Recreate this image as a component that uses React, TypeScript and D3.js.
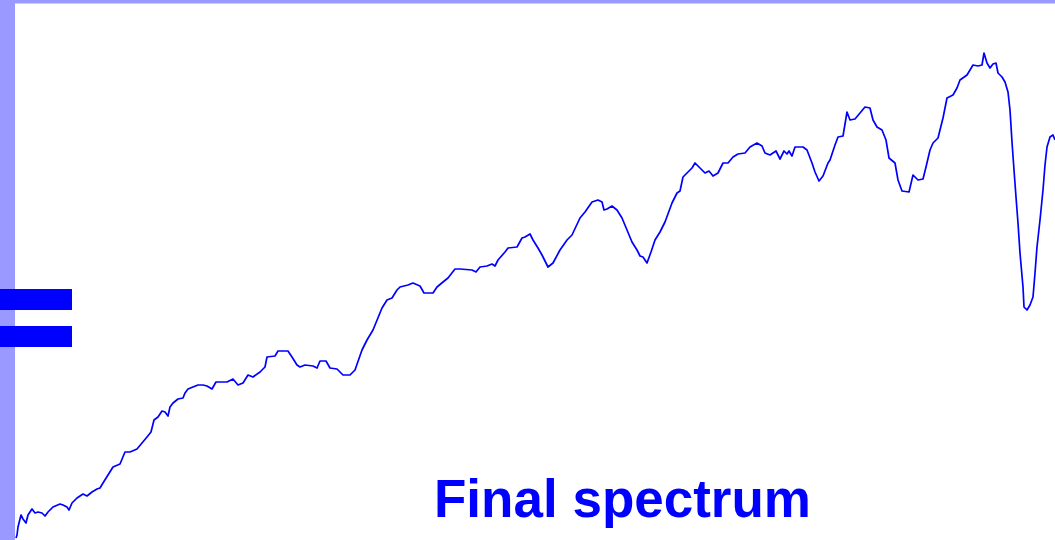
import React from "react";
import * as d3 from "d3";

// Spectrum: [channel, intensity]
const spectrum: [number, number][] = [
  [16,2],[17,5],[18,13],[21,25],[23,21],[26,17],[28,25],[32,31],[35,27],[38,28],[42,27],[45,24],[48,28],[53,33],[60,36],[63,35],[67,33],[69,30],[72,37],[77,42],[83,46],[87,44],[92,48],[97,51],[100,52],[103,57],[108,65],[113,73],[120,76],[125,88],[130,88],[137,91],[142,97],[147,103],[151,108],[154,120],[158,123],[162,129],[165,128],[168,124],[170,133],[173,137],[178,141],[183,142],[185,147],[188,151],[193,153],[198,155],[203,155],[207,154],[212,151],[216,158],[227,158],[233,161],[238,155],[243,157],[248,165],[253,163],[260,168],[265,173],[267,183],[275,184],[278,189],[288,189],[292,183],[297,175],[300,173],[305,175],[313,174],[317,172],[320,179],[326,179],[330,172],[337,171],[343,165],[350,165],[355,170],[362,190],[367,200],[373,210],[382,232],[387,240],[392,242],[397,250],[400,253],[408,255],[413,257],[420,254],[424,247],[433,247],[437,253],[443,258],[448,262],[455,271],[460,271],[472,270],[476,268],[480,273],[487,274],[492,276],[495,274],[498,280],[505,288],[508,292],[517,293],[522,302],[525,303],[530,306],[533,300],[538,292],[542,285],[548,273],[553,277],[560,290],[567,300],[572,305],[580,322],[585,328],[592,338],[598,340],[602,338],[604,330],[607,331],[612,334],[617,330],[622,322],[627,310],[632,298],[637,290],[640,284],[643,283],[647,277],[651,288],[655,300],[660,308],[665,318],[672,337],[677,347],[680,349],[683,363],[688,368],[692,372],[695,377],[700,372],[705,367],[709,369],[713,364],[718,367],[723,377],[728,377],[733,383],[738,386],[745,387],[750,393],[757,397],[762,394],[765,387],[770,385],[776,389],[780,381],[784,389],[787,386],[789,389],[792,384],[795,393],[803,393],[807,390],[812,377],[815,368],[819,359],[823,364],[828,377],[830,380],[835,395],[838,403],[843,404],[847,428],[850,420],[855,421],[860,427],[865,433],[870,432],[873,420],[877,413],[882,410],[886,400],[889,382],[895,377],[898,360],[902,349],[909,348],[913,365],[918,360],[923,361],[926,373],[930,390],[933,397],[938,402],[943,422],[947,442],[953,445],[957,452],[960,460],[967,465],[973,475],[978,474],[982,475],[984,487],[987,477],[990,472],[993,476],[996,477],[998,467],[1002,463],[1005,458],[1008,448],[1010,430],[1012,398],[1014,370],[1016,343],[1018,317],[1020,287],[1023,253],[1024,233],[1027,230],[1030,235],[1033,243],[1035,267],[1037,293],[1040,320],[1043,350],[1045,375],[1047,393],[1050,403],[1053,405],[1055,400]
];

const titleText = ["Final spectrum"];
const equalBars = [0, 1];

const W = 1055;
const H = 540;

export default function App() {
  const x = d3.scaleLinear().domain([0, 1055]).range([0, W]);
  const y = d3.scaleLinear().domain([0, 540]).range([H, 0]);
  const line = d3
    .line<[number, number]>()
    .x((d) => x(d[0]))
    .y((d) => y(d[1]))
    .curve(d3.curveLinear);

  const barY = d3.scaleBand<number>().domain(equalBars).range([289, 347]).paddingInner(0.432);

  return (
    <div style={{ position: "fixed", left: 0, top: 0, width: W, height: H, background: "#fff" }}>
      <svg width={W} height={H} style={{ display: "block" }}>
        <rect x={0} y={0} width={W} height={H} fill="#ffffff" />
        <rect x={0} y={0} width={W} height={3.5} fill="#9999ff" />
        <rect x={0} y={0} width={15} height={H} fill="#9999ff" />
        {equalBars.map((b) => (
          <rect key={b} x={0} y={barY(b)} width={72} height={barY.bandwidth()} fill="#0000ff" />
        ))}
        <path d={line(spectrum) || ""} fill="none" stroke="#0000ff" strokeWidth={1.7} strokeLinejoin="round" />
        {titleText.map((t) => (
          <text
            key={t}
            x={434}
            y={517}
            fill="#0000ff"
            fontFamily="'Liberation Sans', Arial, sans-serif"
            fontWeight="bold"
            fontSize={53}
          >
            {t}
          </text>
        ))}
      </svg>
    </div>
  );
}
